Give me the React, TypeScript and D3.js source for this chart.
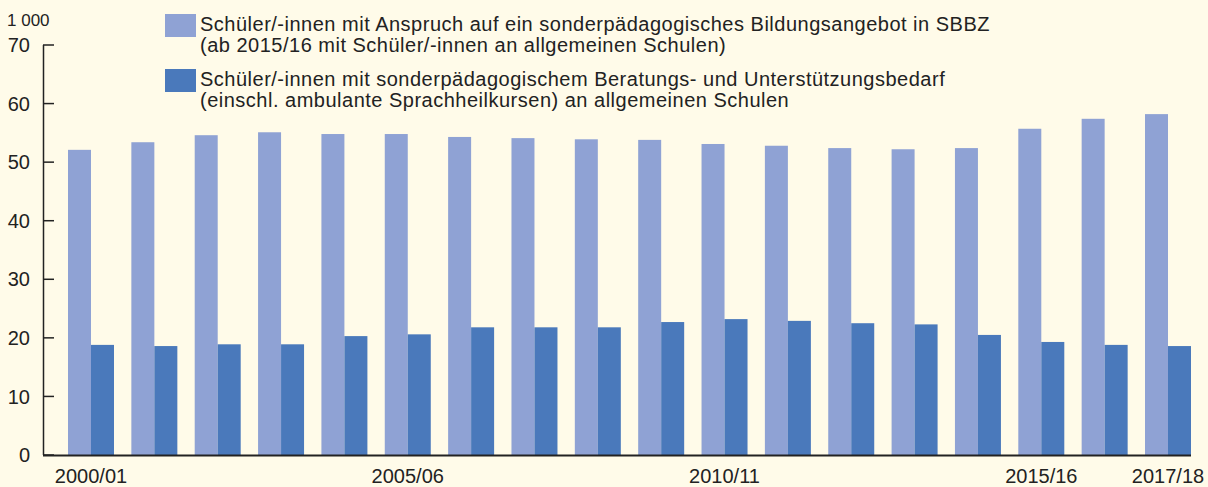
import { useMemo } from 'react';
import * as d3 from 'd3';

const years = [
  '2000/01', '2001/02', '2002/03', '2003/04', '2004/05', '2005/06', '2006/07', '2007/08', '2008/09',
  '2009/10', '2010/11', '2011/12', '2012/13', '2013/14', '2014/15', '2015/16', '2016/17', '2017/18'
];
const sbbzValues = [52.1, 53.4, 54.6, 55.1, 54.8, 54.8, 54.3, 54.1, 53.9, 53.8, 53.1, 52.8, 52.4, 52.2, 52.4, 55.7, 57.4, 58.2];
const beratungValues = [18.8, 18.6, 18.9, 18.9, 20.3, 20.6, 21.8, 21.8, 21.8, 22.7, 23.2, 22.9, 22.5, 22.3, 20.5, 19.3, 18.8, 18.6];
const yTicks = [0, 10, 20, 30, 40, 50, 60, 70];
const xLabels = ['2000/01', '2005/06', '2010/11', '2015/16', '2017/18'];
const legendLines = [
  ['Schüler/-innen mit Anspruch auf ein sonderpädagogisches Bildungsangebot in SBBZ', '(ab 2015/16 mit Schüler/-innen an allgemeinen Schulen)'],
  ['Schüler/-innen mit sonderpädagogischem Beratungs- und Unterstützungsbedarf', '(einschl. ambulante Sprachheilkursen) an allgemeinen Schulen']
];

const WIDTH = 1208;
const HEIGHT = 487;
const LIGHT = '#8fa2d4';
const DARK = '#4a79bb';
const BG = '#fffbe9';
const INK = '#222';
const FONT = '"Liberation Sans", Arial, sans-serif';

export default function App() {
  const x = useMemo(
    () => d3.scaleBand<string>().domain(years).range([68, 1191]).paddingInner(0.274).paddingOuter(0),
    []
  );
  const y = useMemo(() => d3.scaleLinear().domain([0, 70]).range([455, 45]), []);
  const sub = useMemo(
    () => d3.scaleBand<string>().domain(['a', 'b']).range([0, x.bandwidth()]),
    [x]
  );

  return (
    <svg
      width={WIDTH}
      height={HEIGHT}
      style={{ position: 'absolute', left: 0, top: 0, display: 'block', background: BG }}
      fontFamily={FONT}
    >
      <rect x={0} y={0} width={WIDTH} height={HEIGHT} fill={BG} />

      {/* bars */}
      {years.map((yr, i) => (
        <g key={yr} transform={`translate(${x(yr)},0)`}>
          <rect x={sub('a')} y={y(sbbzValues[i])} width={sub.bandwidth()} height={y(0) - y(sbbzValues[i])} fill={LIGHT} />
          <rect x={sub('b')} y={y(beratungValues[i])} width={sub.bandwidth()} height={y(0) - y(beratungValues[i])} fill={DARK} />
        </g>
      ))}

      {/* y axis */}
      <line x1={43.5} x2={43.5} y1={y(70)} y2={y(0)} stroke={INK} strokeWidth={1.5} />
      {yTicks.map((t) => (
        <g key={t}>
          <line x1={43} x2={54} y1={y(t)} y2={y(t)} stroke={INK} strokeWidth={1.5} />
          <text x={30} y={y(t)} dy="0.36em" textAnchor="end" fontSize={20} fill={INK}>
            {t}
          </text>
        </g>
      ))}
      <text x={7} y={26} fontSize={17} fill={INK}>1 000</text>

      {/* x axis */}
      <line x1={43} x2={1191} y1={y(0) + 0.5} y2={y(0) + 0.5} stroke={INK} strokeWidth={2} />
      {xLabels.map((lab) => (
        <text key={lab} x={(x(lab) ?? 0) + sub.bandwidth()} y={483} textAnchor="middle" fontSize={20} fill={INK}>
          {lab}
        </text>
      ))}

      {/* legend */}
      {legendLines.map((lines, i) => (
        <g key={i} transform={`translate(165,${14 + i * 55})`}>
          <rect x={0} y={0} width={31} height={23} fill={i === 0 ? LIGHT : DARK} />
          {lines.map((ln, j) => (
            <text key={j} x={35} y={17 + j * 21} fontSize={20} letterSpacing={0.5} fill={INK}>
              {ln}
            </text>
          ))}
        </g>
      ))}
    </svg>
  );
}
